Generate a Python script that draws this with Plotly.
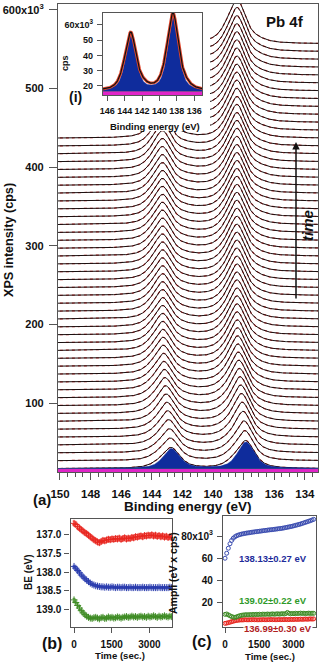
import numpy as np
import plotly.graph_objects as go

# ---------------- data ----------------
time_s = [0, 72, 144, 216, 288, 360, 432, 504, 576, 648, 720, 792, 864, 936, 1008,
          1080, 1152, 1224, 1296, 1368, 1440, 1512, 1584, 1656, 1728, 1800, 1872,
          1944, 2016, 2088, 2160, 2232, 2304, 2376, 2448, 2520, 2592, 2664, 2736,
          2808, 2880, 2952, 3024, 3096, 3168, 3240, 3312, 3384, 3456, 3528, 3600,
          3672, 3744, 3816, 3888]

be_blue = [137.85, 137.90, 137.96, 138.02, 138.08, 138.13, 138.18, 138.22, 138.26, 138.30,
           138.33, 138.35, 138.37, 138.38, 138.39, 138.40, 138.40, 138.41, 138.40, 138.41,
           138.41, 138.40, 138.41, 138.42, 138.41, 138.41, 138.42, 138.41, 138.41, 138.42,
           138.42, 138.41, 138.42, 138.42, 138.41, 138.42, 138.42, 138.42, 138.41, 138.42,
           138.42, 138.42, 138.41, 138.42, 138.42, 138.42, 138.42, 138.41, 138.42, 138.42,
           138.42, 138.42, 138.42, 138.41, 138.42]
be_green = [138.75, 138.82, 138.90, 138.97, 139.04, 139.10, 139.15, 139.19, 139.22, 139.24,
            139.25, 139.23, 139.22, 139.24, 139.26, 139.23, 139.22, 139.25, 139.24, 139.21,
            139.23, 139.22, 139.24, 139.23, 139.21, 139.22, 139.24, 139.22, 139.21, 139.20,
            139.22, 139.21, 139.19, 139.21, 139.20, 139.22, 139.20, 139.19, 139.21, 139.20,
            139.22, 139.19, 139.21, 139.20, 139.18, 139.20, 139.22, 139.19, 139.21, 139.20,
            139.18, 139.20, 139.21, 139.19, 139.20]
be_red = [136.69, 136.72, 136.78, 136.82, 136.86, 136.90, 136.94, 136.97, 137.01, 137.05,
          137.09, 137.13, 137.16, 137.19, 137.21, 137.18, 137.15, 137.16, 137.14, 137.12,
          137.13, 137.11, 137.12, 137.10, 137.11, 137.09, 137.12, 137.10, 137.08, 137.11,
          137.09, 137.10, 137.07, 137.08, 137.05, 137.06, 137.04, 137.03, 137.05, 137.02,
          137.03, 137.01, 137.02, 137.00, 137.03, 137.01, 137.04, 137.02, 137.05, 137.03,
          137.06, 137.04, 137.07, 137.05, 137.08]

amp_blue = [60.0, 64.5, 69.0, 73.0, 76.0, 78.0, 79.3, 80.2, 80.8, 81.3, 81.7, 82.0, 82.3,
            82.6, 82.8, 83.0, 83.3, 83.5, 83.7, 83.9, 84.1, 84.3, 84.5, 84.7, 84.9, 85.1,
            85.3, 85.5, 85.6, 85.8, 86.0, 86.2, 86.4, 86.6, 86.8, 87.0, 87.3, 87.6, 87.9,
            88.2, 88.5, 88.8, 89.2, 89.6, 90.0, 90.4, 90.8, 91.3, 91.8, 92.3, 92.8, 93.3,
            93.8, 94.4, 95.0]
amp_green = [9.5, 9.8, 9.0, 8.2, 7.5, 7.0, 6.8, 7.2, 7.8, 8.3, 8.6, 8.9, 9.0, 9.2, 9.0,
             9.3, 9.1, 9.4, 9.2, 9.5, 9.3, 9.6, 9.4, 9.7, 9.5, 9.6, 9.8, 9.5, 9.7, 9.9,
             9.6, 9.8, 10.0, 9.7, 9.9, 10.1, 9.8, 10.2, 11.2, 10.4, 10.0, 10.3, 10.1, 10.5,
             10.2, 10.4, 10.6, 10.3, 10.5, 10.2, 10.4, 10.6, 10.3, 10.5, 10.4]
amp_red = [1.4, 1.6, 2.0, 2.4, 2.9, 3.3, 3.7, 4.0, 4.2, 4.4, 4.5, 4.4, 4.6, 4.5, 4.4,
           4.6, 4.5, 4.7, 4.5, 4.6, 4.4, 4.6, 4.5, 4.7, 4.6, 4.5, 4.7, 4.6, 4.8, 4.6,
           4.7, 4.5, 4.7, 4.8, 4.6, 4.8, 4.7, 4.9, 4.7, 4.8, 5.0, 4.8, 4.9, 5.1, 4.9,
           5.0, 5.2, 5.0, 5.1, 5.3, 5.1, 5.2, 5.4, 5.2, 5.4]

err_blue, err_green, err_red = 0.03, 0.04, 0.06

# fit model constants (Pb 4f doublet)
SO_SPLIT = 4.87
BRANCH = 0.75
FWHM_MAIN = 1.3
FWHM_INSET = 1.45
ETA = 0.6
BG = 16.5          # background, 10^3 cps
OFFSET = 10.0      # waterfall offset, 10^3 cps

main_ticks = [100, 200, 300, 400, 500, 600]
main_ticktext = ['100', '200', '300', '400', '500', '600x10<sup>3</sup>']
inset_ticks = [20, 30, 40, 50, 60]
inset_ticktext = ['20', '30', '40', '50', '60x10<sup>3</sup>']
amp_ticks = [20, 40, 60, 80]
amp_ticktext = ['20', '40', '60', '80x10<sup>3</sup>']

energy = np.arange(150.4, 132.9, -0.05)


def pv(E, c, w):
    d = (E - c) / w
    return ETA / (1 + 4 * d * d) + (1 - ETA) * np.exp(-4 * np.log(2) * d * d)


def doublet(E, be, amp, w):
    h = amp / (w * (ETA * np.pi / 2 + (1 - ETA) * 1.0645))
    return h * (pv(E, be, w) + BRANCH * pv(E, be + SO_SPLIT, w))


def comps(i, w):
    b = doublet(energy, be_blue[i], amp_blue[i], w)
    g = doublet(energy, be_green[i], amp_green[i], w)
    r = doublet(energy, be_red[i], amp_red[i], w)
    bg = np.full_like(energy, BG)
    return bg, b, g, r


W, H = 320, 663
FONT = 'Liberation Sans, Arial, sans-serif'


def px(x):
    return x / W


def py(y):
    return 1 - y / H


# axis geometry (pixels)
A_X = (58, 318); A_Y = (4, 472)
I_X = (103, 202); I_Y = (13, 95)
B_X = (70.5, 172); B_Y = (518.5, 627)
C_X = (223, 316); C_Y = (516, 627)
A_XR = [150.13, 133.14]; A_YR = [12.3, 607.2]

RED_DATA = '#d43030'
BLUE = '#0f2c9c'
GREEN = '#4f9a2a'
MAGENTA = '#e025c8'

fig = go.Figure()
N = len(time_s)

# ---------- panel (a): waterfall (back to front) ----------
for i in reversed(range(N)):
    bg, b, g, r = comps(i, FWHM_MAIN)
    tot = bg + b + g + r + OFFSET * i
    fig.add_trace(go.Scatter(x=energy, y=tot, mode='lines', fill='tozeroy', fillcolor='white',
                             line=dict(color=RED_DATA, width=1.2, dash='dot'),
                             xaxis='x', yaxis='y', showlegend=False, hoverinfo='skip'))
    fig.add_trace(go.Scatter(x=energy, y=tot, mode='lines',
                             line=dict(color='#1a1010', width=1.0),
                             xaxis='x', yaxis='y', showlegend=False, hoverinfo='skip'))

# white box behind the inset (converted from pixel box to data coordinates)
def a_xdata(p):
    return A_XR[0] + (p - A_X[0]) / (A_X[1] - A_X[0]) * (A_XR[1] - A_XR[0])


def a_ydata(p):
    return A_YR[0] + (A_Y[1] - p) / (A_Y[1] - A_Y[0]) * (A_YR[1] - A_YR[0])


mx0, mx1 = a_xdata(A_X[0]), a_xdata(210)
my0, my1 = a_ydata(131), a_ydata(A_Y[0])
fig.add_trace(go.Scatter(x=[mx0, mx1, mx1, mx0, mx0], y=[my0, my0, my1, my1, my0],
                         mode='lines', fill='toself', fillcolor='white', line=dict(width=0),
                         xaxis='x', yaxis='y', showlegend=False, hoverinfo='skip'))

# component fills of the first spectrum
bg, b, g, r = comps(0, FWHM_MAIN)
fig.add_trace(go.Scatter(x=energy, y=bg + r, mode='lines', fill='tozeroy', fillcolor=MAGENTA,
                         line=dict(color=MAGENTA, width=1), xaxis='x', yaxis='y',
                         showlegend=False, hoverinfo='skip'))
fig.add_trace(go.Scatter(x=energy, y=bg, mode='lines', line=dict(width=0), xaxis='x', yaxis='y',
                         showlegend=False, hoverinfo='skip'))
fig.add_trace(go.Scatter(x=energy, y=bg + g, mode='lines', fill='tonexty', fillcolor=GREEN,
                         line=dict(color=GREEN, width=0.5), xaxis='x', yaxis='y',
                         showlegend=False, hoverinfo='skip'))
fig.add_trace(go.Scatter(x=energy, y=bg, mode='lines', line=dict(width=0), xaxis='x', yaxis='y',
                         showlegend=False, hoverinfo='skip'))
fig.add_trace(go.Scatter(x=energy, y=bg + b, mode='lines', fill='tonexty', fillcolor=BLUE,
                         line=dict(color=BLUE, width=0.5), xaxis='x', yaxis='y',
                         showlegend=False, hoverinfo='skip'))

# ---------- inset (i): last spectrum with fit components ----------
k = N - 1
bg, b, g, r = comps(k, FWHM_INSET)
fig.add_trace(go.Scatter(x=energy, y=bg + r, mode='lines', fill='tozeroy', fillcolor=MAGENTA,
                         line=dict(color=MAGENTA, width=1), xaxis='x2', yaxis='y2',
                         showlegend=False, hoverinfo='skip'))
fig.add_trace(go.Scatter(x=energy, y=bg, mode='lines', line=dict(width=0), xaxis='x2', yaxis='y2',
                         showlegend=False, hoverinfo='skip'))
fig.add_trace(go.Scatter(x=energy, y=bg + g, mode='lines', fill='tonexty', fillcolor=GREEN,
                         line=dict(color=GREEN, width=0.5), xaxis='x2', yaxis='y2',
                         showlegend=False, hoverinfo='skip'))
fig.add_trace(go.Scatter(x=energy, y=bg, mode='lines', line=dict(width=0), xaxis='x2', yaxis='y2',
                         showlegend=False, hoverinfo='skip'))
fig.add_trace(go.Scatter(x=energy, y=bg + b, mode='lines', fill='tonexty', fillcolor=BLUE,
                         line=dict(color=BLUE, width=0.5), xaxis='x2', yaxis='y2',
                         showlegend=False, hoverinfo='skip'))
tot = bg + b + g + r
fig.add_trace(go.Scatter(x=energy, y=tot, mode='lines', line=dict(color='#e2452a', width=3),
                         xaxis='x2', yaxis='y2', showlegend=False, hoverinfo='skip'))
fig.add_trace(go.Scatter(x=energy, y=tot, mode='lines', line=dict(color='#111111', width=1.2),
                         xaxis='x2', yaxis='y2', showlegend=False, hoverinfo='skip'))

# ---------- panel (b): binding energies ----------
for vals, err, col in [(be_red, err_red, '#e8261f'), (be_blue, err_blue, '#2a3cae'),
                       (be_green, err_green, '#3f8c25')]:
    fig.add_trace(go.Scatter(x=time_s, y=vals, mode='markers', xaxis='x3', yaxis='y3',
                             marker=dict(symbol='cross-thin', size=5, color=col,
                                         line=dict(width=1, color=col)),
                             error_y=dict(type='constant', value=err, thickness=0.8, width=1.5,
                                          color=col),
                             showlegend=False, hoverinfo='skip'))

# ---------- panel (c): amplitudes ----------
for vals, col in [(amp_red, '#e8261f'), (amp_green, '#3f8c25'), (amp_blue, '#3a4cb0')]:
    fig.add_trace(go.Scatter(x=time_s, y=vals, mode='markers', xaxis='x4', yaxis='y4',
                             marker=dict(symbol='circle-open', size=4, color=col,
                                         line=dict(width=1, color=col)),
                             showlegend=False, hoverinfo='skip'))

AX = '#555555'
tf = lambda s: dict(family=FONT, size=s, color='#111111', weight='bold')

common = dict(showline=True, linecolor=AX, linewidth=1.2, mirror=True, showgrid=False,
              zeroline=False, ticks='outside', tickcolor=AX, tickwidth=1, automargin=False)

fig.update_layout(
    template='none',
    width=W, height=H, autosize=False, margin=dict(l=0, r=0, t=0, b=0, pad=0),
    paper_bgcolor='white', plot_bgcolor='white', showlegend=False,
    font=dict(family=FONT, color='#111111'),
    xaxis=dict(domain=[px(A_X[0]), px(A_X[1])], range=A_XR, anchor='y',
               tickvals=[150, 148, 146, 144, 142, 140, 138, 136, 134], ticklen=7,
               minor=dict(dtick=0.5, ticklen=3.5, ticks='outside', tickcolor=AX),
               tickfont=tf(11.5), ticklabelstandoff=4, **common),
    yaxis=dict(domain=[py(A_Y[1]), py(A_Y[0])], range=A_YR, anchor='x',
               tickvals=main_ticks, ticktext=main_ticktext, ticklen=8,
               tickfont=tf(11), ticklabelstandoff=3, **common),
    xaxis2=dict(domain=[px(I_X[0]), px(I_X[1])], range=[146.5, 135.1], anchor='y2',
                tickvals=[146, 144, 142, 140, 138, 136], ticklen=5, tickangle=0,
                tickfont=tf(9), ticklabelstandoff=2, **common),
    yaxis2=dict(domain=[py(I_Y[1]), py(I_Y[0])], range=[14.1, 67.8], anchor='x2',
                tickvals=inset_ticks, ticktext=inset_ticktext, ticklen=5,
                tickfont=tf(9), ticklabelstandoff=2, **common),
    xaxis3=dict(domain=[px(B_X[0]), px(B_X[1])], range=[-140, 3900], anchor='y3',
                tickvals=[0, 1500, 3000], ticklen=5, tickfont=tf(10), ticklabelstandoff=3,
                tickangle=0, **common),
    yaxis3=dict(domain=[py(B_Y[1]), py(B_Y[0])], range=[139.48, 136.56], anchor='x3',
                tickvals=[137.0, 137.5, 138.0, 138.5, 139.0],
                ticktext=['137.0', '137.5', '138.0', '138.5', '139.0'], ticklen=5,
                tickfont=tf(10), ticklabelstandoff=1, **common),
    xaxis4=dict(domain=[px(C_X[0]), px(C_X[1])], range=[-90, 3990], anchor='y4',
                tickvals=[0, 1500, 3000], ticklen=5, tickfont=tf(10), ticklabelstandoff=3,
                tickangle=0, **common),
    yaxis4=dict(domain=[py(C_Y[1]), py(C_Y[0])], range=[-1.9, 98], anchor='x4',
                tickvals=amp_ticks, ticktext=amp_ticktext, ticklen=5,
                tickfont=tf(10), ticklabelstandoff=2, **common),
)


def label(text, x, y, size, color='#111111', angle=0, italic=False, bg=None):
    fig.add_annotation(xref='paper', yref='paper', x=px(x), y=py(y), text=text,
                       showarrow=False, xanchor='center', yanchor='middle', textangle=angle,
                       font=dict(family=FONT, size=size, color=color, weight='bold',
                                 style='italic' if italic else 'normal'),
                       bgcolor=bg, borderpad=0)


label('Pb 4f', 285, 21, 15)
label('(i)', 75, 97, 14)
label('cps', 65, 63, 9, angle=-90)
label('Binding energy (eV)', 155, 126, 9.5)
label('XPS intensity (cps)', 9, 240, 12.6, angle=-90)
label('Binding energy (eV)', 188, 507, 13.5)
label('(a)', 42, 499, 15)
label('(b)', 52, 643, 16)
label('(c)', 202, 641, 16)
label('BE (eV)', 28, 572, 10, angle=-90)
label('Time (sec.)', 120, 655, 9.6)
label('Time (sec.)', 270, 656, 9.6)
label('Ampli (eV x cps)', 173, 573, 10.5, angle=-90)
label('138.13±0.27 eV', 273, 558, 9.5, color='#1d2b9a')
label('139.02±0.22 eV', 273, 600, 9.5, color='#2f9a2a')
label('136.99±0.30 eV', 278, 628, 9.5, color='#b0201e', bg='white')
label('time', 307, 226, 15, angle=-90, italic=True)

fig.add_annotation(xref='paper', yref='paper', x=px(296), y=py(142), ax=0, ay=158,
                   axref='pixel', ayref='pixel', showarrow=True, arrowhead=2, arrowsize=1,
                   arrowwidth=1.5, arrowcolor='#111111', text='')

fig.write_html('out.html', config={'displayModeBar': False},
               post_script="document.body.style.margin='0px';"
                           "document.body.style.overflow='hidden';")
